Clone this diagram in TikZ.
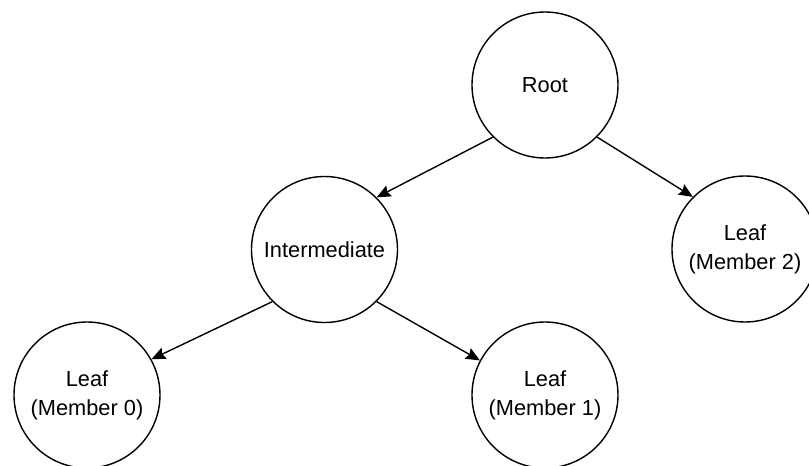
\documentclass[tikz,border=0pt]{standalone}
\usepackage{fontspec}
\setmainfont{Liberation Sans}
\usetikzlibrary{arrows.meta}
\begin{document}
\begin{tikzpicture}[>={Stealth[length=0.28cm,width=0.24cm,inset=0.04cm]},
  treenode/.style={draw, circle, line width=0.8pt, minimum size=2.92cm, inner sep=0pt, align=center,
    font=\fontsize{12.4}{16.5}\selectfont},
  link/.style={->, line width=0.8pt}]
\useasboundingbox (0,0) rectangle (16.18,-9.32);
\node[treenode] (root) at (10.9,-1.7) {Root};
\node[treenode] (inter) at (6.49,-4.99) {Intermediate};
\node[treenode] (leaf2) at (14.9,-4.98) {Leaf\\(Member 2)};
\node[treenode] (leaf0) at (1.74,-7.9) {Leaf\\(Member 0)};
\node[treenode] (leaf1) at (10.9,-7.9) {Leaf\\(Member 1)};

\draw[link] (root.south west) -- (inter.north east);
\draw[link] (root.south east) -- (leaf2.north west);
\draw[link] (inter.south west) -- (leaf0.29);
\draw[link] (inter.south east) -- (leaf1.152);
\end{tikzpicture}
\end{document}
